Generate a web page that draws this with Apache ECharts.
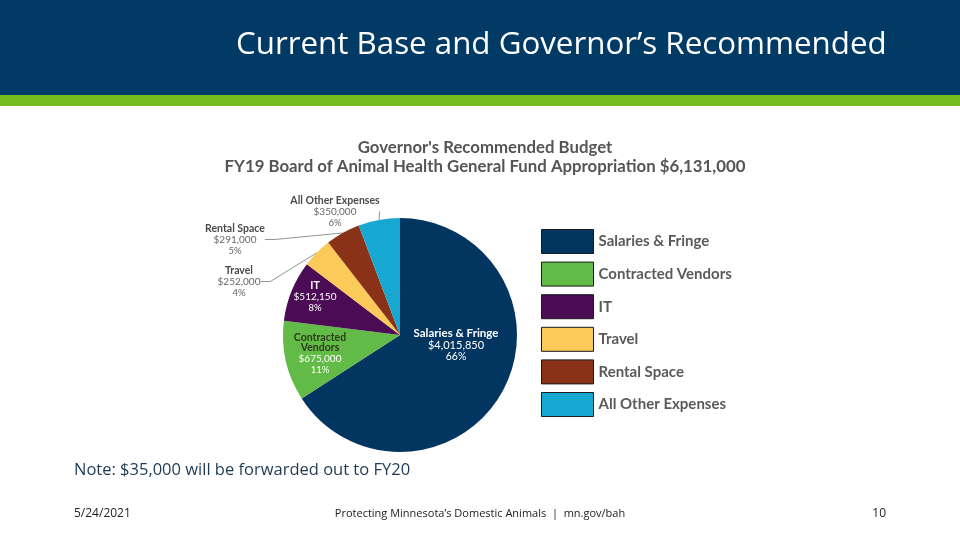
<!DOCTYPE html>
<html><head><meta charset="utf-8">
<script src="https://cdn.jsdelivr.net/npm/echarts@6/dist/echarts.min.js"></script>
<style>html,body{margin:0;padding:0;background:#fff}#c{width:960px;height:540px}</style>
</head><body><div id="c"></div>
<script>
const categories = ["Salaries & Fringe","Contracted Vendors","IT","Travel","Rental Space","All Other Expenses"];
const values = [4015850, 675000, 512150, 252000, 291000, 350000];
const valueLabels = ["$4,015,850","$675,000","$512,150","$252,000","$291,000","$350,000"];
const pctLabels = ["66%","11%","8%","4%","5%","6%"];
const nameLabels = ["Salaries & Fringe","Contracted\nVendors","IT","Travel","Rental Space","All Other Expenses"];

const colors = ["#033561","#62bb46","#4b0b55","#fcca58","#8a3217","#16a8d0"];
// label placement: [x, y]
const labelPos = [[456,345],[320,354],[315,297],[239,282],[235,240],[335,212]];
const nameColors = ["#ffffff","#2f3a1f","#ffffff","#4a4a4a","#4a4a4a","#4a4a4a"];
const valColors = ["#ffffff","#ffffff","#ffffff","#666666","#666666","#666666"];

const chart = echarts.init(document.getElementById('c'));
const data = categories.map((c,i)=>({
  name:c, value:values[i],
  itemStyle:{color:colors[i]},
  label:{
    show:true,
    position: i>=3 ? 'outside' : 'inside',
    formatter: ()=> nameLabels[i].split('\n').map(s=>'{n|'+s+'}').join('\n') + '\n{v|'+valueLabels[i]+'}\n{p|'+pctLabels[i]+'}',
    rich:{
      n:{fontFamily:'Lato',fontWeight:'bold',fontSize:i===0?11.5:10.5,color:nameColors[i],lineHeight:i===0?12:10,align:'center'},
      v:{fontFamily:'Lato',fontSize:i===0?11:10,color:valColors[i],lineHeight:i===0?12:11,align:'center'},
      p:{fontFamily:'Lato',fontSize:i===0?10.5:9.5,color:valColors[i],lineHeight:i===0?12:11,align:'center'}
    }
  },
  labelLine:{show: i>=3, length:10, length2:10, lineStyle:{color:'#777',width:0.8}}
}));

chart.setOption({
  animation:false,
  title:{
    text:"Governor's Recommended Budget\nFY19 Board of Animal Health General Fund Appropriation $6,131,000",
    left:480, top:133, textAlign:'center',
    textStyle:{fontFamily:'Lato',fontWeight:'bold',fontSize:16.8,color:'#555555',lineHeight:19}
  },
  legend:{
    orient:'vertical', left:541, top:229, padding:0,
    itemWidth:52, itemHeight:24, itemGap:7.6,
    icon:'rect',
    itemStyle:{borderColor:'#1a1a1a',borderWidth:1},
    textStyle:{fontFamily:'Lato',fontSize:15,fontWeight:'bold',color:'#5a5a5a'},
    data:categories
  },
  series:[{
    type:'pie',
    center:[400,335], radius:[0,117],
    startAngle:90, clockwise:true,
    avoidLabelOverlap:false,
    itemStyle:{borderColor:'#ffffff',borderWidth:0},
    labelLayout:function(p){
      const pos = labelPos[p.dataIndex];
      return {x:pos[0], y:pos[1], align:'center', verticalAlign:'middle'};
    },
    data:data
  }],
  graphic:[
    {type:'rect',shape:{x:0,y:0,width:960,height:95},style:{fill:'#023a66'},z:-1},
    {type:'rect',shape:{x:0,y:95,width:960,height:11},style:{fill:'#77bc1f'},z:-1},
    {type:'text',left:236,top:30,style:{text:"Current Base and Governor’s Recommended",fill:'#ffffff',font:'31.3px "Open Sans"'}},
    {type:'text',left:74,top:462,style:{text:"Note: $35,000 will be forwarded out to FY20",fill:'#1d3a55',font:'16.5px "Open Sans"'}},
    {type:'text',left:74,top:508,style:{text:"5/24/2021",fill:'#222',font:'12px "Open Sans"'}},
    {type:'text',x:480,y:508,style:{text:"Protecting Minnesota’s Domestic Animals  |  mn.gov/bah",fill:'#222',font:'11px "Open Sans"',textAlign:'center'}},
    {type:'text',x:886,y:508,style:{text:"10",fill:'#222',font:'12px "Open Sans"',textAlign:'right'}}
  ]
});
</script></body></html>
